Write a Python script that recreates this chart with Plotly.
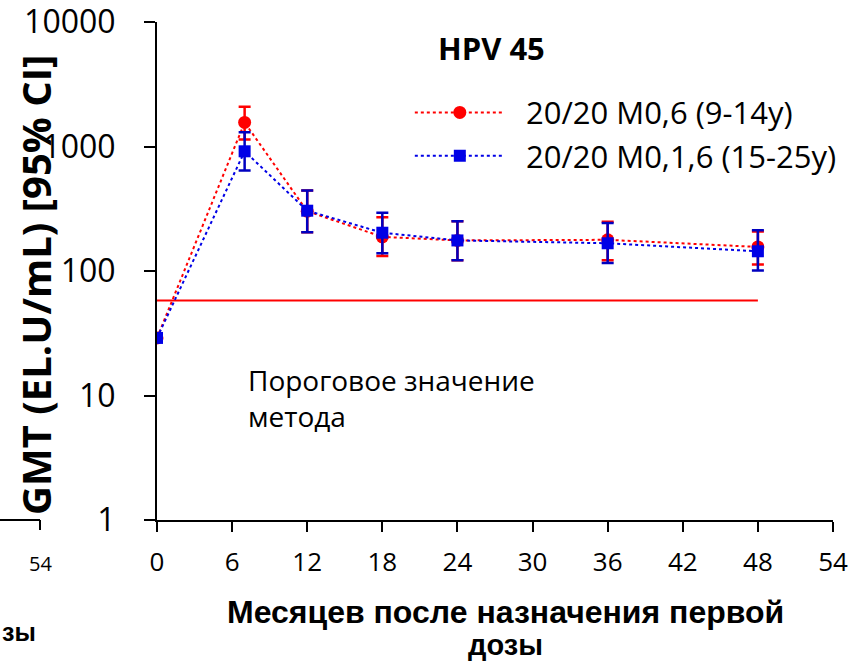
import plotly.graph_objects as go

months = [0, 7, 12, 18, 24, 36, 48]

red_name = "20/20 M0,6 (9-14y)"
red_gmt = [29, 1560, 302, 188, 176, 178, 156]
red_hi = [29, 2090, 443, 270, 251, 249, 208]
red_lo = [29, 1136, 205, 132, 122, 122, 113]

blue_name = "20/20 M0,1,6 (15-25y)"
blue_gmt = [29, 915, 305, 203, 176, 167, 144]
blue_hi = [29, 1300, 443, 294, 251, 243, 212]
blue_lo = [29, 641, 205, 139, 122, 116, 101]

cutoff = 58
cutoff_months = [0, 48]

x_ticks = [0, 6, 12, 18, 24, 30, 36, 42, 48, 54]
y_ticks = [1, 10, 100, 1000, 10000]

FONT = "Open Sans"
PAD = "\u00a0\u00a0"

fig = go.Figure()

fig.add_trace(go.Scatter(
    x=cutoff_months, y=[cutoff, cutoff], mode="lines",
    line=dict(color="#ff0000", width=2), showlegend=False, hoverinfo="skip"))


def add_series(name, gmt, hi, lo, color, ecolor, symbol, size):
    fig.add_trace(go.Scatter(
        x=months, y=gmt, name=PAD + name, mode="lines+markers",
        line=dict(color=color, width=2, dash="dot"),
        marker=dict(color=color, symbol=symbol, size=size),
        error_y=dict(type="data", symmetric=False,
                     array=[h - g for h, g in zip(hi, gmt)],
                     arrayminus=[g - l for g, l in zip(gmt, lo)],
                     color=ecolor, thickness=2.5, width=6),
    ))


add_series(red_name, red_gmt, red_hi, red_lo, "#ff0000", "#ff0000", "circle", 13)
add_series(blue_name, blue_gmt, blue_hi, blue_lo, "#0000e6", "#0000c0", "square", 12)

fig.update_layout(
    width=856, height=665,
    margin=dict(l=157, r=23, t=22, b=145),
    plot_bgcolor="white", paper_bgcolor="white",
    font=dict(family=FONT, color="black"),
    showlegend=True,
    legend=dict(x=0.374, y=0.872, xanchor="left", yanchor="top",
                font=dict(size=31, family=FONT), itemwidth=90,
                bgcolor="rgba(0,0,0,0)", tracegroupgap=0),
    xaxis=dict(range=[0, 54], tickvals=x_ticks, ticktext=[str(t) for t in x_ticks],
               showgrid=False, zeroline=False, showline=True, linecolor="black",
               linewidth=2, ticks="outside", ticklen=10, tickwidth=2, tickcolor="black",
               tickfont=dict(size=26, family=FONT), ticklabelstandoff=8,
               automargin=False, ticklabeloverflow="allow"),
    yaxis=dict(type="log", range=[0, 4], tickvals=y_ticks,
               ticktext=[str(t) for t in y_ticks],
               showgrid=False, zeroline=False, showline=True, linecolor="black",
               linewidth=2, ticks="outside", ticklen=11, tickwidth=2, tickcolor="black",
               tickfont=dict(size=32, family=FONT), ticklabelstandoff=22,
               automargin=False, ticklabeloverflow="allow"),
)

annotations = [
    dict(text="<b>HPV 45</b>", x=491, y=48, size=31, family=FONT),
    dict(text="Пороговое значение<br>метода", x=246, y=398, size=28, family=FONT,
         xanchor="left", align="left"),
    dict(text="<b>Месяцев после назначения первой</b>", x=505, y=612, size=32,
         family="Liberation Sans"),
    dict(text="<b>дозы</b>", x=505, y=645, size=29, family="Liberation Sans"),
    dict(text="54", x=40, y=563, size=20, family=FONT),
    dict(text="<b>зы</b>", x=0, y=632, size=25, family="Liberation Sans", xanchor="left"),
]
for a in annotations:
    fig.add_annotation(
        text=a["text"], xref="paper", yref="paper",
        x=(a["x"] - 157) / 676, y=(520 - a["y"]) / 498,
        xanchor=a.get("xanchor", "center"), yanchor="middle", align=a.get("align", "center"),
        showarrow=False, font=dict(size=a["size"], family=a["family"], color="black"),
    )

fig.add_annotation(
    text="<b>GMT (EL.U/mL) [95% CI]</b>", xref="paper", yref="paper",
    x=(35 - 157) / 676, y=(520 - 285) / 498, xanchor="center", yanchor="middle",
    textangle=-90, showarrow=False, font=dict(size=40, family=FONT, color="black"))

# fragment of neighbouring panel
fig.add_shape(type="line", xref="paper", yref="paper",
              x0=-157 / 676, x1=(40 - 157) / 676, y0=0, y1=0,
              line=dict(color="black", width=2))
fig.add_shape(type="line", xref="paper", yref="paper",
              x0=(40 - 157) / 676, x1=(40 - 157) / 676, y0=0, y1=-10 / 498,
              line=dict(color="black", width=2))

fig.write_html("out.html")
